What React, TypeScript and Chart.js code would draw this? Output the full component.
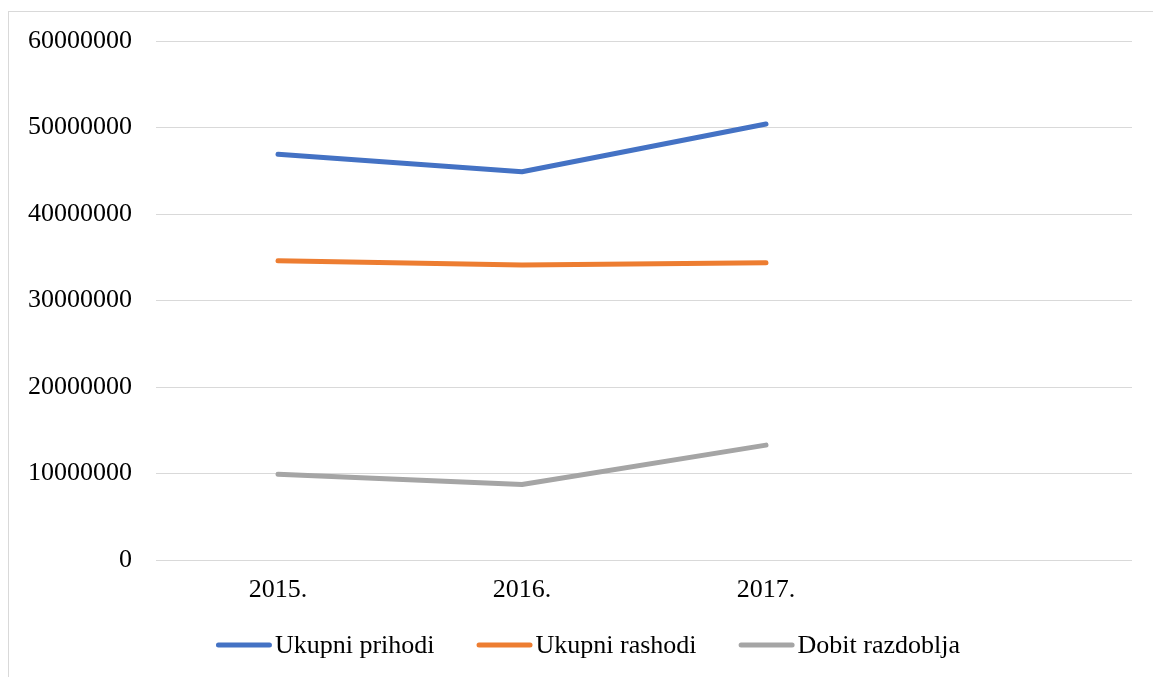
import React, { useEffect, useRef } from "react";
import { Chart, registerables } from "chart.js";

Chart.register(...registerables);

const categories = ["2015.", "2016.", "2017.", ""];
const ukupniPrihodi = [46920000, 44880000, 50400000];
const ukupniRashodi = [34600000, 34100000, 34370000];
const dobitRazdoblja = [9920000, 8730000, 13280000];
const seriesNames = ["Ukupni prihodi", "Ukupni rashodi", "Dobit razdoblja"];
const seriesColors = ["#4472C4", "#ED7D31", "#A5A5A5"];
const yTicks = { min: 0, max: 60000000, step: 10000000 };

const FONT = "'Liberation Serif', 'Times New Roman', serif";

const legendPlugin = {
  id: "customLegend",
  afterDraw(chart: any) {
    const ctx = chart.ctx;
    const ds = chart.data.datasets;
    ctx.save();
    ctx.font = `26px ${FONT}`;
    const lineLen = 56;
    const textGap = 3;
    const itemGap = 42;
    const widths = ds.map((d: any) => lineLen + textGap + ctx.measureText(d.label).width);
    const total = widths.reduce((a: number, b: number) => a + b, 0) + itemGap * (ds.length - 1);
    let x = 579 - total / 2;
    const y = 633;
    ds.forEach((d: any, i: number) => {
      ctx.strokeStyle = d.borderColor;
      ctx.lineWidth = 5;
      ctx.lineCap = "round";
      ctx.beginPath();
      ctx.moveTo(x + 2.5, y);
      ctx.lineTo(x + lineLen - 2.5, y);
      ctx.stroke();
      ctx.fillStyle = "#000";
      ctx.textBaseline = "middle";
      ctx.textAlign = "left";
      ctx.fillText(d.label, x + lineLen + textGap, y + 1);
      x += widths[i] + itemGap;
    });
    ctx.restore();
  },
};

export default function App() {
  const ref = useRef<HTMLCanvasElement | null>(null);
  useEffect(() => {
    document.documentElement.style.overflow = "hidden";
    if (!ref.current) return;
    const values = [ukupniPrihodi, ukupniRashodi, dobitRazdoblja];
    const chart = new Chart(ref.current, {
      type: "line",
      data: {
        labels: categories,
        datasets: values.map((v, i) => ({
          label: seriesNames[i],
          data: v,
          borderColor: seriesColors[i],
          backgroundColor: seriesColors[i],
          borderWidth: 5,
          borderCapStyle: "round",
          borderJoinStyle: "round",
          pointRadius: 0,
          tension: 0,
          fill: false,
        })),
      },
      options: {
        responsive: false,
        animation: false,
        layout: { padding: { top: 29, right: 21, left: 0, bottom: 71 } },
        plugins: {
          legend: { display: false },
          tooltip: { enabled: false },
        },
        scales: {
          x: {
            offset: true,
            grid: { display: false, drawTicks: false },
            border: { display: false },
            ticks: {
              color: "#000",
              font: { family: FONT, size: 26 },
              padding: 15,
              maxRotation: 0,
            },
            afterFit: (s: any) => {
              s.height = 46;
              s.paddingLeft = 0;
              s.paddingRight = 0;
            },
          },
          y: {
            min: yTicks.min,
            max: yTicks.max,
            grid: { color: "#d9d9d9", lineWidth: 1, drawTicks: false },
            border: { display: false },
            ticks: {
              stepSize: yTicks.step,
              color: "#000",
              font: { family: FONT, size: 26 },
              padding: 24,
              callback: (v: any) => String(v),
            },
            afterFit: (s: any) => {
              s.width = 147;
              s.paddingTop = 0;
              s.paddingBottom = 0;
            },
          },
        },
      },
      plugins: [legendPlugin],
    });
    return () => chart.destroy();
  }, []);
  return (
    <div
      style={{
        position: "absolute",
        left: 8,
        top: 11,
        width: 1145,
        height: 666,
        borderTop: "1px solid #d9d9d9",
        borderLeft: "1px solid #d9d9d9",
        boxSizing: "border-box",
        background: "#fff",
      }}
    >
      <canvas ref={ref} width={1144} height={665} style={{ display: "block" }} />
    </div>
  );
}
